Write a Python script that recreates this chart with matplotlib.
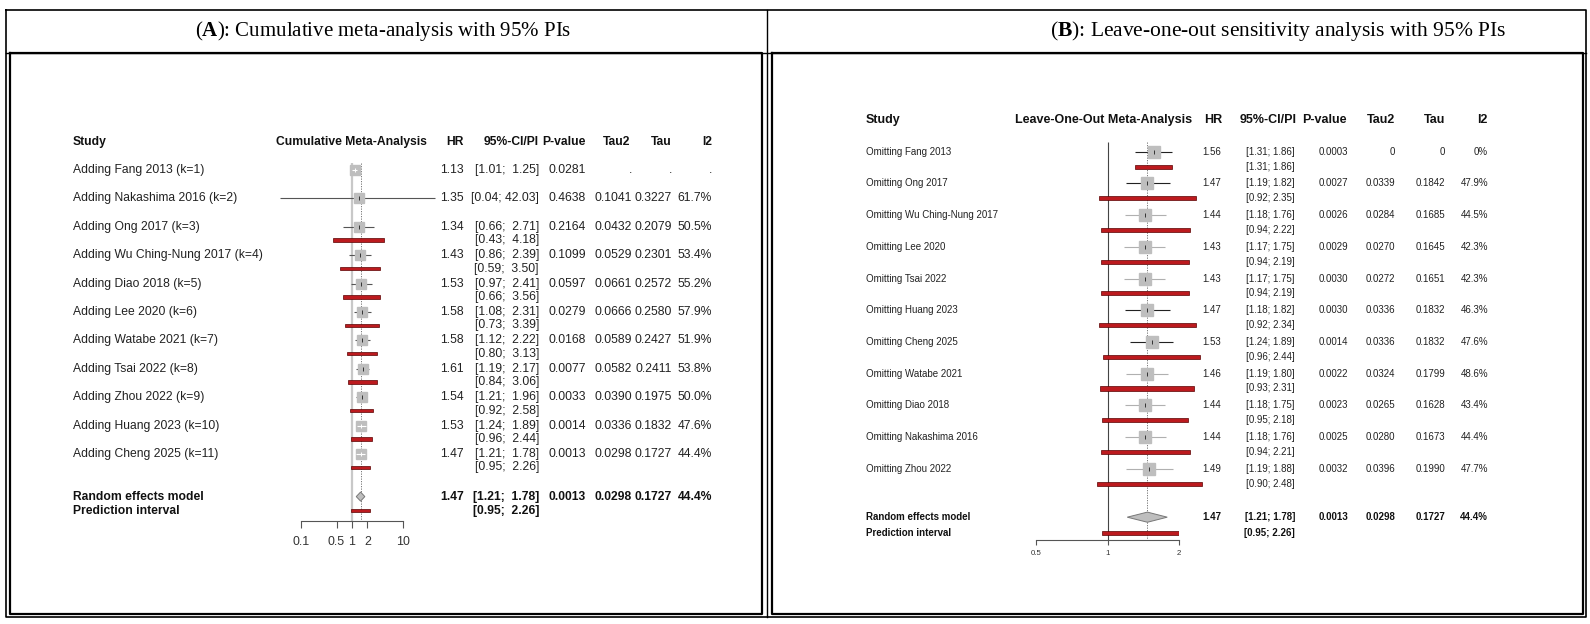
import numpy as np
import matplotlib
matplotlib.use("Agg")
import matplotlib.pyplot as plt
import matplotlib.transforms as mtransforms
from matplotlib.lines import Line2D

plt.rcParams['font.family'] = ['Liberation Sans', 'DejaVu Sans']
plt.rcParams['mathtext.fontset'] = 'custom'
plt.rcParams['mathtext.rm'] = 'Liberation Serif'
plt.rcParams['mathtext.bf'] = 'Liberation Serif:bold'

# ---- panel A: cumulative meta-analysis ----
labels_a = ["Adding Fang 2013 (k=1)", "Adding Nakashima 2016 (k=2)", "Adding Ong 2017 (k=3)",
            "Adding Wu Ching-Nung 2017 (k=4)", "Adding Diao 2018 (k=5)", "Adding Lee 2020 (k=6)",
            "Adding Watabe 2021 (k=7)", "Adding Tsai 2022 (k=8)", "Adding Zhou 2022 (k=9)",
            "Adding Huang 2023 (k=10)", "Adding Cheng 2025 (k=11)"]
hr_a = [1.13, 1.35, 1.34, 1.43, 1.53, 1.58, 1.58, 1.61, 1.54, 1.53, 1.47]
ci_lo_a = [1.01, 0.04, 0.66, 0.86, 0.97, 1.08, 1.12, 1.19, 1.21, 1.24, 1.21]
ci_hi_a = [1.25, 42.03, 2.71, 2.39, 2.41, 2.31, 2.22, 2.17, 1.96, 1.89, 1.78]
pi_lo_a = [None, None, 0.43, 0.59, 0.66, 0.73, 0.80, 0.84, 0.92, 0.96, 0.95]
pi_hi_a = [None, None, 4.18, 3.50, 3.56, 3.39, 3.13, 3.06, 2.58, 2.44, 2.26]
pval_a = ["0.0281", "0.4638", "0.2164", "0.1099", "0.0597", "0.0279", "0.0168", "0.0077",
          "0.0033", "0.0014", "0.0013"]
tau2_a = [".", "0.1041", "0.0432", "0.0529", "0.0661", "0.0666", "0.0589", "0.0582",
          "0.0390", "0.0336", "0.0298"]
tau_a = [".", "0.3227", "0.2079", "0.2301", "0.2572", "0.2580", "0.2427", "0.2411",
         "0.1975", "0.1832", "0.1727"]
i2_a = [".", "61.7%", "50.5%", "53.4%", "55.2%", "57.9%", "51.9%", "53.8%", "50.0%",
        "47.6%", "44.4%"]
ticks_a = [0.1, 0.5, 1, 2, 10]

# ---- panel B: leave-one-out ----
labels_b = ["Omitting Fang 2013", "Omitting Ong 2017", "Omitting Wu Ching-Nung 2017",
            "Omitting Lee 2020", "Omitting Tsai 2022", "Omitting Huang 2023",
            "Omitting Cheng 2025", "Omitting Watabe 2021", "Omitting Diao 2018",
            "Omitting Nakashima 2016", "Omitting Zhou 2022"]
hr_b = [1.56, 1.47, 1.44, 1.43, 1.43, 1.47, 1.53, 1.46, 1.44, 1.44, 1.49]
ci_lo_b = [1.31, 1.19, 1.18, 1.17, 1.17, 1.18, 1.24, 1.19, 1.18, 1.18, 1.19]
ci_hi_b = [1.86, 1.82, 1.76, 1.75, 1.75, 1.82, 1.89, 1.80, 1.75, 1.76, 1.88]
pi_lo_b = [1.31, 0.92, 0.94, 0.94, 0.94, 0.92, 0.96, 0.93, 0.95, 0.94, 0.90]
pi_hi_b = [1.86, 2.35, 2.22, 2.19, 2.19, 2.34, 2.44, 2.31, 2.18, 2.21, 2.48]
pval_b = ["0.0003", "0.0027", "0.0026", "0.0029", "0.0030", "0.0030", "0.0014", "0.0022",
          "0.0023", "0.0025", "0.0032"]
tau2_b = ["0", "0.0339", "0.0284", "0.0270", "0.0272", "0.0336", "0.0336", "0.0324",
          "0.0265", "0.0280", "0.0396"]
tau_b = ["0", "0.1842", "0.1685", "0.1645", "0.1651", "0.1832", "0.1832", "0.1799",
         "0.1628", "0.1673", "0.1990"]
i2_b = ["0%", "47.9%", "44.5%", "42.3%", "42.3%", "46.3%", "47.6%", "48.6%", "43.4%",
        "44.4%", "47.7%"]
ticks_b = [0.5, 1, 2]

# pooled random effects model (same in both panels)
re_hr, re_lo, re_hi = 1.47, 1.21, 1.78
re_plo, re_phi = 0.95, 2.26
re_p, re_tau2, re_tau, re_i2 = "0.0013", "0.0298", "0.1727", "44.4%"

W, H = 1590, 624
fig = plt.figure(figsize=(W / 100, H / 100), dpi=100)
fig.patch.set_facecolor('white')

RED = '#BC1A1E'
SQ = '#BEBEBE'


def fbox(x0, y0, x1, y1):
    return [x0 / W, 1 - y1 / H, (x1 - x0) / W, (y1 - y0) / H]


def fline(xs, ys, lw):
    fig.add_artist(Line2D([x / W for x in xs], [1 - y / H for y in ys],
                          color='black', lw=lw, transform=fig.transFigure))


def forest(ax, hr, lo, hi, plo, phi, ms, ci_cols, bar_h, tick_ms):
    xpix = lambda v: ax.transData.transform((v, 0))[0]
    half = ms * 100 / 72 / 2
    for i in range(len(hr)):
        ax.hlines(i, lo[i], hi[i], color=ci_cols[i], lw=0.8, zorder=2, clip_on=False)
        ax.plot(hr[i], i, marker='s', ms=ms, color=SQ, mec=SQ, zorder=3, clip_on=False)
        inside = (xpix(hr[i]) - xpix(lo[i]) < half) and (xpix(hi[i]) - xpix(hr[i]) < half)
        if inside:
            ax.hlines(i, lo[i], hi[i], color='white', lw=0.8, zorder=4)
        ax.plot(hr[i], i, marker='|', ms=tick_ms, color='white' if inside else '#333333',
                mew=0.7, zorder=5)
        if plo[i] is not None:
            ax.barh(i + 0.47, phi[i] - plo[i], left=plo[i], height=bar_h, color=RED,
                    edgecolor='#5a0000', lw=0.5, zorder=2, clip_on=False)


def diamond(ax, y, h):
    ax.fill([re_lo, re_hr, re_hi, re_hr], [y, y - h, y, y + h], facecolor=SQ,
            edgecolor='#777777', lw=0.7, zorder=3)


def style_axis(ax, ticks, fs, tlen, pad):
    for s in ['top', 'left', 'right']:
        ax.spines[s].set_visible(False)
    ax.spines['bottom'].set_color('#555555')
    ax.spines['bottom'].set_linewidth(0.8)
    ax.set_yticks([])
    ax.set_xticks(ticks)
    ax.set_xticklabels([f"{t:g}" for t in ticks])
    ax.xaxis.set_minor_locator(matplotlib.ticker.NullLocator())
    ax.tick_params(axis='x', length=tlen, width=0.8, color='#555555', labelsize=fs,
                   labelcolor='#333333', pad=pad)
    ax.patch.set_visible(False)


# ---------------- panel A ----------------
ax_a = fig.add_axes(fbox(300.7, 153, 403.3, 521))
ax_a.set_xscale('log')
ax_a.set_xlim(0.1, 10)
ax_a.set_ylim(12.36, -0.6)
style_axis(ax_a, ticks_a, 8.9, 5, 5.5)
ax_a.vlines(1, -0.25, 12.36, color='#C8C8C8', lw=1.6, zorder=1)
ax_a.vlines(re_hr, -0.25, 12.36, color='#666666', lw=0.6, linestyles=(0, (1.5, 1.5)), zorder=1)
forest(ax_a, hr_a, ci_lo_a, ci_hi_a, pi_lo_a, pi_hi_a, 7.2, ['#555555'] * 11, 0.12, 2.5)
diamond(ax_a, 11.5, 0.16)
ax_a.barh(12.0, re_phi - re_plo, left=re_plo, height=0.12, color=RED,
          edgecolor='#5a0000', lw=0.5, zorder=2)

tr_a = mtransforms.blended_transform_factory(mtransforms.IdentityTransform(), ax_a.transData)
fa = 8.7
hdr = dict(transform=tr_a, fontsize=fa, fontweight='bold', va='center', color='#111111')
ax_a.text(73, -1.0, "Study", ha='left', **hdr)
ax_a.text(351, -1.0, "Cumulative Meta-Analysis", ha='center', **hdr)
for x, s in [(464, "HR"), (539, "95%-CI/PI"), (586, "P-value"), (630, "Tau2"),
             (672, "Tau"), (712, "I2")]:
    ax_a.text(x, -1.0, s, ha='right', **hdr)

body = dict(transform=tr_a, fontsize=fa, va='center', color='#222222')
for i in range(len(labels_a)):
    ax_a.text(73, i, labels_a[i], ha='left', **body)
    ax_a.text(464, i, f"{hr_a[i]:.2f}", ha='right', **body)
    ax_a.text(539, i, f"[{ci_lo_a[i]:.2f}; {ci_hi_a[i]:5.2f}]", ha='right', **body)
    if pi_lo_a[i] is not None:
        ax_a.text(539, i + 0.47, f"[{pi_lo_a[i]:.2f}; {pi_hi_a[i]:5.2f}]", ha='right', **body)
    ax_a.text(586, i, pval_a[i], ha='right', **body)
    ax_a.text(632, i, tau2_a[i], ha='right', **body)
    ax_a.text(672, i, tau_a[i], ha='right', **body)
    ax_a.text(712, i, i2_a[i], ha='right', **body)

bold = dict(body, fontweight='bold', color='#111111')
ax_a.text(73, 11.5, "Random effects model", ha='left', **bold)
ax_a.text(73, 12.0, "Prediction interval", ha='left', **bold)
ax_a.text(464, 11.5, f"{re_hr:.2f}", ha='right', **bold)
ax_a.text(539, 11.5, f"[{re_lo:.2f}; {re_hi:5.2f}]", ha='right', **bold)
ax_a.text(539, 12.0, f"[{re_plo:.2f}; {re_phi:5.2f}]", ha='right', **bold)
ax_a.text(586, 11.5, re_p, ha='right', **bold)
ax_a.text(632, 11.5, re_tau2, ha='right', **bold)
ax_a.text(672, 11.5, re_tau, ha='right', **bold)
ax_a.text(712, 11.5, re_i2, ha='right', **bold)

# ---------------- panel B ----------------
ax_b = fig.add_axes(fbox(1035.7, 130, 1179.3, 540))
ax_b.set_xscale('log')
ax_b.set_xlim(0.5, 2)
ax_b.set_ylim(12.25, -0.685)
style_axis(ax_b, ticks_b, 5.7, 3.6, 3.5)
ax_b.vlines(1, -0.32, 12.25, color='#444444', lw=0.8, zorder=1)
ax_b.vlines(re_hr, -0.32, 12.25, color='#666666', lw=0.6, linestyles=(0, (1.5, 1.5)), zorder=1)
dark, light = '#222222', '#B0B0B0'
ci_cols_b = [dark, dark, light, light, light, dark, dark, light, light, light, light]
forest(ax_b, hr_b, ci_lo_b, ci_hi_b, pi_lo_b, pi_hi_b, 8.3, ci_cols_b, 0.13, 2.8)
diamond(ax_b, 11.53, 0.16)
ax_b.barh(12.02, re_phi - re_plo, left=re_plo, height=0.13, color=RED,
          edgecolor='#5a0000', lw=0.5, zorder=2)

tr_b = mtransforms.blended_transform_factory(mtransforms.IdentityTransform(), ax_b.transData)
fb, fbh = 7.0, 9.0
hdr_b = dict(transform=tr_b, fontsize=fbh, fontweight='bold', va='center', color='#111111')
ax_b.text(866, -1.0, "Study", ha='left', **hdr_b)
ax_b.text(1104, -1.0, "Leave-One-Out Meta-Analysis", ha='center', **hdr_b)
for x, s in [(1222, "HR"), (1297, "95%-CI/PI"), (1347, "P-value"), (1395, "Tau2"),
             (1445, "Tau"), (1488, "I2")]:
    ax_b.text(x, -1.0, s, ha='right', **hdr_b)

body_b = dict(transform=tr_b, fontsize=fb, va='center', color='#222222')
for i in range(len(labels_b)):
    ax_b.text(866, i, labels_b[i], ha='left', **body_b)
    ax_b.text(1221, i, f"{hr_b[i]:.2f}", ha='right', **body_b)
    ax_b.text(1295, i, f"[{ci_lo_b[i]:.2f}; {ci_hi_b[i]:.2f}]", ha='right', **body_b)
    ax_b.text(1295, i + 0.47, f"[{pi_lo_b[i]:.2f}; {pi_hi_b[i]:.2f}]", ha='right', **body_b)
    ax_b.text(1348, i, pval_b[i], ha='right', **body_b)
    ax_b.text(1395, i, tau2_b[i], ha='right', **body_b)
    ax_b.text(1445, i, tau_b[i], ha='right', **body_b)
    ax_b.text(1488, i, i2_b[i], ha='right', **body_b)

bold_b = dict(body_b, fontweight='bold', color='#111111')
ax_b.text(866, 11.53, "Random effects model", ha='left', **bold_b)
ax_b.text(866, 12.02, "Prediction interval", ha='left', **bold_b)
ax_b.text(1221, 11.53, f"{re_hr:.2f}", ha='right', **bold_b)
ax_b.text(1295, 11.53, f"[{re_lo:.2f}; {re_hi:.2f}]", ha='right', **bold_b)
ax_b.text(1295, 12.02, f"[{re_plo:.2f}; {re_phi:.2f}]", ha='right', **bold_b)
ax_b.text(1348, 11.53, re_p, ha='right', **bold_b)
ax_b.text(1395, 11.53, re_tau2, ha='right', **bold_b)
ax_b.text(1445, 11.53, re_tau, ha='right', **bold_b)
ax_b.text(1488, 11.53, re_i2, ha='right', **bold_b)

# ---------------- table frame and titles ----------------
fline([6, 1586, 1586, 6, 6], [10, 10, 617, 617, 10], 1.2)
fline([6, 1586], [53, 53], 1.0)
fline([767, 767], [10, 617], 1.0)
fline([10, 762, 762, 10, 10], [53, 53, 614, 614, 53], 1.6)
fline([772, 1583, 1583, 772, 772], [53, 53, 614, 614, 53], 1.6)

fig.text(383 / W, 1 - 31 / H, r"($\mathbf{A}$): Cumulative meta-analysis with 95% PIs",
         fontfamily='Liberation Serif', fontsize=15, ha='center', va='center')
fig.text(1278 / W, 1 - 31 / H, r"($\mathbf{B}$): Leave-one-out sensitivity analysis with 95% PIs",
         fontfamily='Liberation Serif', fontsize=15.5, ha='center', va='center')

fig.savefig('out.png', dpi=100, facecolor='white')
